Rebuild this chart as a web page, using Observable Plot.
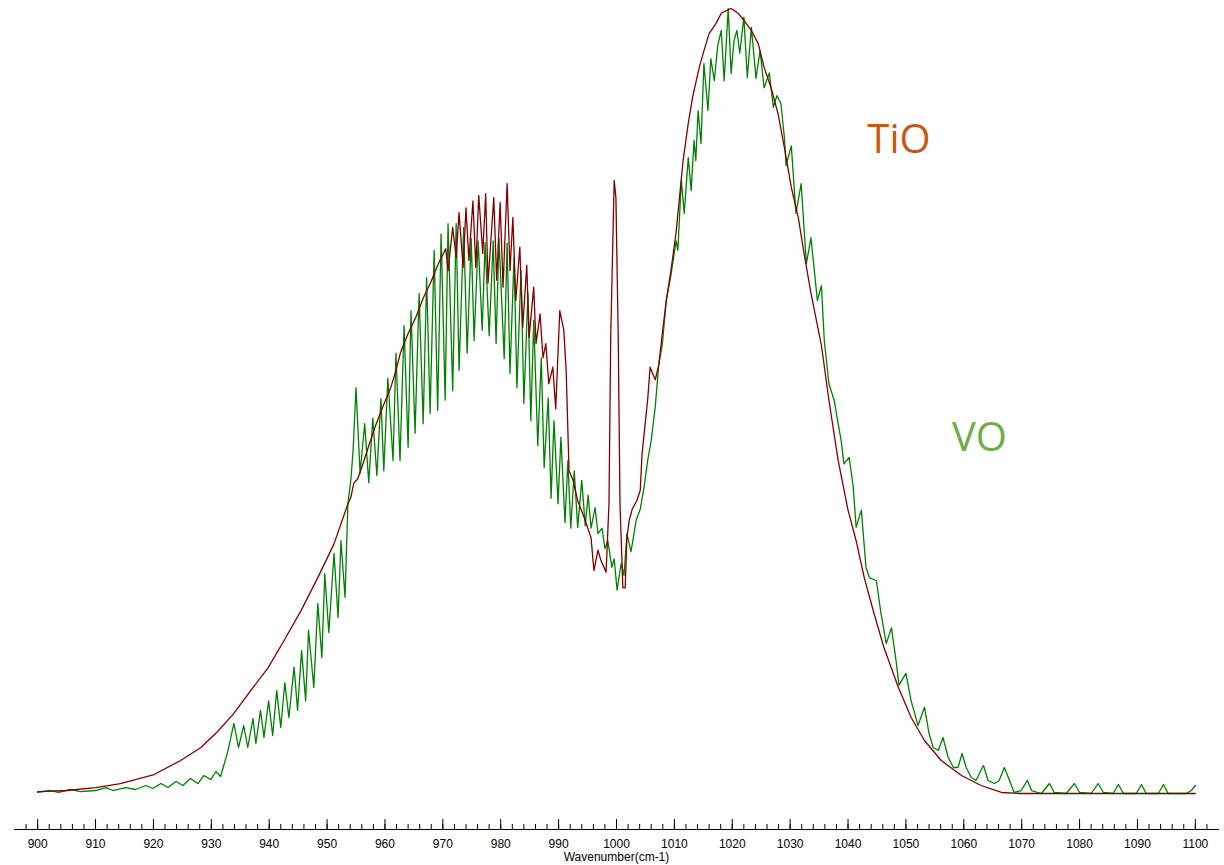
<!DOCTYPE html>
<html>
<head>
<meta charset="utf-8">
<script src="https://cdn.jsdelivr.net/npm/d3@7"></script>
<script src="https://cdn.jsdelivr.net/npm/@observablehq/plot@0.6"></script>
<style>
  html, body { margin: 0; padding: 0; background: #fff; overflow: hidden; }
  #chart svg { display: block; }
</style>
</head>
<body>
<div id="chart"></div>
<script>
// Wavenumber (cm-1) and relative intensity of the TiO spectrum
const tioWn = [900.0,905.0,910.0,914.3,920.1,924.7,928.2,931.1,933.9,936.8,939.8,942.5,945.5,948.4,951.2,953.6,954.1,954.6,955.3,956.2,957.2,958.4,959.6,961.0,961.9,962.7,964.0,965.3,966.6,967.9,969.1,
  970.5,970.9,971.7,972.3,972.8,973.5,974.0,974.5,975.2,975.7,976.2,976.9,977.4,977.8,978.8,979.3,979.9,980.4,981.1,981.6,982.1,982.6,983.3,983.8,984.5,984.9,985.7,986.1,986.8,987.3,987.8,988.3,989.0,989.5,
  990.2,990.9,991.3,991.8,992.5,993.3,994.4,995.6,996.1,996.8,997.3,998.2,998.7,999.0,999.6,999.9,1000.3,1000.6,1001.1,1001.5,1001.8,1002.2,1002.7,1003.5,1004.1,1004.4,1005.4,1005.8,1006.7,1007.3,1008.0,1008.6,1009.4,
  1010.3,1011.5,1012.4,1013.2,1014.3,1015.1,1016.0,1017.2,1018.1,1019.8,1021.0,1022.0,1023.3,1024.5,1025.5,1026.7,1027.9,1029.0,1030.2,1031.4,1032.4,1033.6,1035.4,1036.7,1038.3,1040.0,1041.4,1042.8,1044.5,1046.2,1048.7,
  1050.9,1053.2,1056.1,1059.6,1063.0,1066.5,1069.9,1100.0];
const tioVal = [0.25,0.38,0.76,1.27,2.42,4.2,5.86,7.9,10.2,13.1,16.0,19.4,23.3,27.5,31.8,36.9,37.7,39.5,40.1,42.0,44.3,46.9,49.2,51.7,53.9,56.2,58.6,60.6,63.1,65.1,67.3,
  69.4,66.6,72.1,68.3,74.0,67.0,74.6,67.9,75.5,67.0,76.2,68.8,76.4,65.0,75.9,65.4,75.3,64.5,77.7,66.6,73.4,62.8,69.6,59.4,67.3,58.1,64.5,57.3,61.1,55.5,57.3,52.2,54.3,49.0,
  61.5,59.0,53.9,41.1,39.9,37.3,35.2,32.6,28.4,31.0,29.7,28.2,36.9,58.1,78.1,75.9,58.1,36.9,26.2,26.2,32.6,34.8,36.2,37.3,38.6,43.1,50.3,54.3,52.7,54.6,59.1,62.8,66.6,
  71.5,80.6,85.4,88.9,92.5,94.6,96.8,98.1,99.4,100.0,99.4,98.5,97.2,95.5,92.5,89.9,86.6,82.3,77.2,73.4,68.8,63.7,57.1,50.1,42.4,36.1,32.2,27.5,22.9,18.6,13.5,
  9.68,6.75,4.2,2.29,1.02,0.13,0,0];

// Wavenumber (cm-1) and relative intensity of the VO spectrum
const voWn = [900.0,902.2,903.6,905.7,907.4,910.0,911.8,913.0,915.2,916.9,918.7,919.9,921.3,922.5,923.9,925.1,926.4,927.7,928.7,929.9,930.8,931.6,
  932.8,933.9,934.7,935.6,936.3,937.2,937.7,938.5,939.1,939.9,940.6,941.3,942.0,942.7,943.4,944.3,944.9,945.6,946.3,946.8,947.7,948.4,949.1,949.6,950.3,951.2,951.9,952.4,953.1,953.6,954.1,954.5,
  955.0,955.7,956.5,957.2,957.9,958.6,959.3,959.8,960.5,961.4,961.9,962.6,963.3,964.0,964.5,965.2,965.9,966.6,967.2,967.8,968.5,969.1,969.7,970.4,970.9,971.7,972.3,972.8,973.6,974.2,974.9,975.4,976.1,976.8,977.3,978.0,978.7,979.2,979.7,
  980.6,981.1,981.6,982.3,982.8,983.5,984.0,984.7,985.2,985.7,986.4,987.0,987.5,988.2,988.7,989.2,989.9,990.4,991.1,991.6,992.1,992.7,993.3,994.0,994.6,995.1,995.6,996.3,996.8,997.5,998.0,998.5,999.2,999.6,
  1000.1,1000.8,1001.3,1001.8,1002.5,1003.4,1004.1,1004.8,1005.4,1006.0,1006.7,1007.3,1007.9,1008.6,1009.4,1010.3,1010.6,1011.2,1011.7,1012.4,1012.9,1013.4,1013.7,1014.1,1014.6,1015.1,1015.8,1016.3,1016.9,1017.5,1018.1,1018.6,1019.3,1019.8,
  1020.3,1020.8,1021.3,1022.0,1022.6,1023.3,1024.1,1024.8,1025.5,1026.4,1027.1,1027.7,1028.4,1029.0,1029.3,1030.2,1031.0,1031.9,1032.8,1033.6,1034.7,1035.4,1035.9,1036.7,1037.6,1038.3,1038.8,1039.3,
  1040.2,1040.9,1041.4,1042.3,1043.1,1043.7,1044.9,1045.7,1046.6,1047.5,1048.3,1048.8,1050.0,1050.9,1052.1,1053.2,1054.0,1054.7,1055.6,1056.4,1057.3,1058.2,1059.0,1059.7,
  1060.4,1061.3,1062.1,1063.4,1064.2,1065.3,1066.1,1067.0,1067.9,1068.7,1069.9,1071.0,1071.7,1073.4,1074.8,1075.6,1077.7,1079.1,1080.0,1082.0,1083.2,1084.1,1085.8,1086.7,1087.6,1089.8,1090.7,1091.5,1093.6,1094.5,1095.3,1098.4,1099.3,1100.0];
const voVal = [0.13,0.38,0.13,0.51,0.25,0.38,0.76,0.38,0.76,0.51,1.02,0.64,1.27,0.76,1.53,1.02,1.91,1.27,2.29,1.78,2.8,2.17,
  5.22,8.92,5.86,8.66,5.86,9.55,6.37,10.6,7.13,11.8,7.39,13.1,8.41,14.1,9.68,16.1,10.6,18.2,11.8,20.8,13.5,24.2,17.3,28.0,20.5,30.6,22.4,32.2,25.0,36.9,39.9,43.7,
  51.7,40.8,47.1,39.6,47.8,40.5,50.3,41.1,52.9,42.4,56.1,42.4,59.6,44.1,61.5,45.9,63.7,47.1,65.7,48.4,69.2,48.8,71.3,50.1,72.6,51.3,72.6,53.9,72.1,56.1,70.7,57.7,70.4,59.0,70.2,58.3,70.4,57.3,70.7,
  55.4,70.1,53.5,68.3,51.7,66.6,49.7,63.7,47.5,60.3,44.3,55.5,41.5,50.4,37.6,47.5,36.9,45.4,34.5,42.4,33.8,41.1,33.9,39.9,34.1,38.0,33.8,36.4,33.1,33.8,31.2,32.2,28.8,29.9,
  25.9,29.3,27.8,33.1,30.8,34.8,36.2,39.2,42.5,45.0,49.3,54.6,57.1,62.8,66.0,70.4,69.2,78.1,73.9,81.0,76.8,83.2,80.6,87.0,82.8,93.0,87.0,93.6,90.8,95.3,97.2,90.8,100.0,91.7,
  95.9,97.2,94.3,98.9,91.2,97.6,91.1,94.6,89.9,91.8,87.4,88.9,87.9,83.6,80.0,82.5,73.9,77.7,67.5,70.8,62.8,64.7,57.7,52.2,50.1,47.1,45.0,42.0,
  42.8,39.0,33.9,36.1,28.8,27.5,27.1,22.9,19.1,21.1,16.9,13.8,15.3,11.8,8.66,11.0,7.64,5.86,5.48,7.13,4.59,3.31,3.31,5.1,
  3.31,2.04,1.66,3.57,1.66,1.27,1.66,3.31,1.66,0.13,0.38,1.66,0.38,0,1.27,0.13,0,1.27,0.13,0,1.27,0.13,0,1.15,0,0,1.15,0,0,1.15,0,0,0.38,1.02];

const majorTicks = d3.range(900, 1101, 10);
const minorTicks = d3.range(898, 1103, 2);
const seriesLabels = [
  {name: "TiO", wn: 1048.8, val: 83.2, color: "#C55A11"},
  {name: "VO",  wn: 1062.7, val: 45.2, color: "#70AD47"}
];

const tio = tioWn.map((w, i) => ({wn: w, val: tioVal[i]}));
const vo = voWn.map((w, i) => ({wn: w, val: voVal[i]}));

const chart = Plot.plot({
  width: 1224,
  height: 865,
  marginLeft: 14,
  marginRight: 6,
  marginTop: 8,
  marginBottom: 36,
  style: {fontFamily: "'Liberation Sans', Arial, sans-serif", fontSize: "12px", color: "#000", background: "#fff"},
  x: {domain: [896, 1104]},
  y: {domain: [-4.586, 100], axis: null},
  marks: [
    Plot.line(vo, {x: "wn", y: "val", stroke: "#008000", strokeWidth: 1.3}),
    Plot.line(tio, {x: "wn", y: "val", stroke: "#800000", strokeWidth: 1.3}),
    Plot.frame({anchor: "bottom", stroke: "#000", strokeOpacity: 1}),
    Plot.axisX({ticks: minorTicks, tickSize: -5, tickFormat: () => "", label: null, stroke: "#000", strokeOpacity: 1}),
    Plot.axisX({ticks: majorTicks, tickSize: -10, tickFormat: () => "", label: null, stroke: "#000", strokeOpacity: 1}),
    Plot.axisX({ticks: majorTicks, tickSize: 0, tickPadding: 10, tickFormat: d => String(d), fill: "#000",
      label: "Wavenumber(cm-1)", labelAnchor: "center", labelOffset: 31, labelArrow: "none"}),
    Plot.text(seriesLabels, {x: "wn", y: "val", text: "name", fill: "color", fontSize: 40,
      fontFamily: "'Open Sans', sans-serif", textAnchor: "middle", lineAnchor: "middle"})
  ]
});
document.getElementById("chart").appendChild(chart);
</script>
</body>
</html>
